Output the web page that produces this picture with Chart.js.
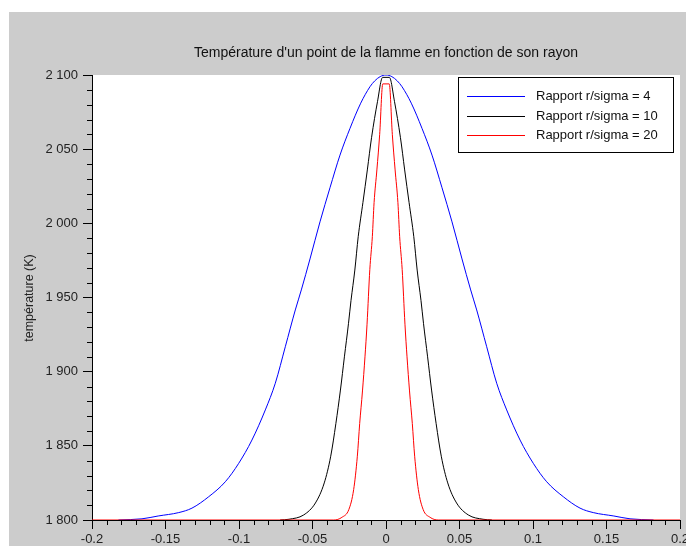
<!DOCTYPE html>
<html lang="fr">
<head>
<meta charset="UTF-8">
<title>Température d'un point de la flamme</title>
<script src="https://cdn.jsdelivr.net/npm/chart.js"></script>
<style>
  html, body { margin: 0; padding: 0; background: #fff; }
  #wrap { width: 686px; height: 546px; }
</style>
</head>
<body>
<div id="wrap"><canvas id="chart" width="686" height="546"></canvas></div>
<script>
// valeurs
const titre = "Température d'un point de la flamme en fonction de son rayon";
const labelY = 'température (K)';
const legendes = ['Rapport r/sigma = 4', 'Rapport r/sigma = 10', 'Rapport r/sigma = 20'];
const couleurs = ['#0000ff', '#000000', '#ff0000'];

const rBleu = [-0.182, -0.166, -0.155, -0.141, -0.132, -0.1206, -0.1093, -0.1002, -0.0912, -0.0821, -0.0753, -0.0685, -0.0617,
  -0.0576, -0.0517, -0.0449, -0.0381, -0.0313, -0.0245, -0.0172, -0.0109, -0.0077, -0.004, 0,
  0.004, 0.0077, 0.0109, 0.0172, 0.0245, 0.0313, 0.0381, 0.0449, 0.0517, 0.0576,
  0.0617, 0.0685, 0.0753, 0.0821, 0.0912, 0.1002, 0.1093, 0.1206, 0.132, 0.141, 0.155, 0.166, 0.182];
const tBleu = [1800, 1800.8, 1802.7, 1805, 1808, 1815.7, 1825.8, 1838.2, 1853.9, 1874.2, 1892.2, 1916.8, 1941.6,
  1955.1, 1976, 2001, 2024, 2046, 2064, 2081, 2092.1, 2096, 2098.9, 2100,
  2098.9, 2096, 2092.1, 2081, 2064, 2046, 2024, 2001, 1976, 1955.1,
  1941.6, 1916.8, 1892.2, 1874.2, 1853.9, 1838.2, 1825.8, 1815.7, 1808, 1805, 1802.7, 1800.8, 1800];

const rNoir = [-0.072, -0.066, -0.056, -0.048, -0.042, -0.0376, -0.0341, -0.031, -0.0283, -0.0255, -0.0238, -0.0212, -0.0189,
  -0.0157, -0.0127, -0.0098, -0.0058, -0.0023, 0.0023, 0.0058, 0.0098, 0.0127, 0.0157, 0.0189, 0.0212, 0.0238,
  0.0255, 0.0283, 0.031, 0.0341, 0.0376, 0.042, 0.048, 0.056, 0.066, 0.072];
const tNoir = [1800, 1800.5, 1803.4, 1811.5, 1825, 1843, 1865, 1887.6, 1910, 1932.6, 1948, 1968.5, 1991,
  2014, 2036, 2058, 2082, 2098.4, 2098.4, 2082, 2058, 2036, 2014, 1991, 1968.5, 1948,
  1932.6, 1910, 1887.6, 1865, 1843, 1825, 1811.5, 1803.4, 1800.5, 1800];

const rRouge = [-0.2, -0.0355, -0.03, -0.0253, -0.022, -0.0195, -0.0179, -0.016, -0.0143, -0.0129, -0.011, -0.0093, -0.0081,
  -0.0062, -0.0043, -0.0022, 0.0022, 0.0043, 0.0062, 0.0081, 0.0093, 0.011, 0.0129, 0.0143, 0.016, 0.0179,
  0.0195, 0.022, 0.0253, 0.03, 0.0355, 0.2];
const tRouge = [1800, 1800, 1801.8, 1807, 1820.5, 1843, 1865, 1887, 1910, 1932, 1969, 1991, 2014,
  2036, 2060, 2094, 2094, 2060, 2036, 2014, 1991, 1969, 1932, 1910, 1887, 1865,
  1843, 1820.5, 1807, 1801.8, 1800, 1800];

const ticksX = [-0.2, -0.15, -0.1, -0.05, 0, 0.05, 0.1, 0.15, 0.2];
const ticksY = [1800, 1850, 1900, 1950, 2000, 2050, 2100];

const police = '"Liberation Sans", Arial, Helvetica, sans-serif';

function points(r, t) {
  return r.map((v, i) => ({ x: v, y: t[i] }));
}

function milliers(v) {
  return String(Math.round(v)).replace(/\B(?=(\d{3})+(?!\d))/g, ' ');
}

const fond = {
  id: 'fond',
  beforeDraw(chart) {
    const ctx = chart.ctx, a = chart.chartArea;
    ctx.save();
    ctx.fillStyle = '#ffffff';
    ctx.fillRect(0, 0, chart.width, chart.height);
    ctx.fillStyle = '#cccccc';
    ctx.fillRect(9, 12, chart.width - 9, chart.height - 12);
    ctx.fillStyle = '#ffffff';
    ctx.fillRect(a.left, a.top, a.right - a.left, a.bottom - a.top);
    ctx.restore();
  }
};

// petites graduations + textes (titre, axe, légende)
const decor = {
  id: 'decor',
  afterDraw(chart) {
    const ctx = chart.ctx, a = chart.chartArea;
    const sx = chart.scales.x, sy = chart.scales.y;
    ctx.save();
    ctx.strokeStyle = '#000';
    ctx.lineWidth = 1;
    ctx.beginPath();
    for (let i = -20; i <= 20; i++) {
      if (i % 5 === 0) continue;
      const px = Math.round(sx.getPixelForValue(i / 100)) + 0.5;
      ctx.moveTo(px, a.bottom);
      ctx.lineTo(px, a.bottom + 5);
    }
    for (let v = 1800; v <= 2100; v += 10) {
      if (v % 50 === 0) continue;
      const py = Math.round(sy.getPixelForValue(v)) + 0.5;
      ctx.moveTo(a.left - 5, py);
      ctx.lineTo(a.left, py);
    }
    ctx.stroke();

    ctx.fillStyle = '#111';
    ctx.font = '14px ' + police;
    ctx.textAlign = 'center';
    ctx.textBaseline = 'middle';
    ctx.fillText(titre, (a.left + a.right) / 2, 53);

    ctx.save();
    ctx.translate(30, 298);
    ctx.rotate(-Math.PI / 2);
    ctx.fillStyle = '#222';
    ctx.font = '12.5px ' + police;
    ctx.fillText(labelY, 0, 0);
    ctx.restore();

    // légende
    ctx.fillStyle = '#fff';
    ctx.fillRect(458, 77, 215, 75);
    ctx.strokeStyle = '#000';
    ctx.strokeRect(458.5, 77.5, 215, 75);
    ctx.textAlign = 'left';
    ctx.font = '13px ' + police;
    const lignes = [96.5, 116.5, 135.5];
    legendes.forEach((txt, i) => {
      ctx.strokeStyle = couleurs[i];
      ctx.beginPath();
      ctx.moveTo(467, lignes[i]);
      ctx.lineTo(525, lignes[i]);
      ctx.stroke();
      ctx.fillStyle = '#111';
      ctx.fillText(txt, 536, lignes[i]);
    });
    ctx.restore();
  }
};

new Chart(document.getElementById('chart'), {
  type: 'scatter',
  data: {
    datasets: [
      { label: legendes[0], data: points(rBleu, tBleu), borderColor: couleurs[0], order: 2 },
      { label: legendes[1], data: points(rNoir, tNoir), borderColor: couleurs[1], order: 1 },
      { label: legendes[2], data: points(rRouge, tRouge), borderColor: couleurs[2], order: 0 }
    ].map(d => Object.assign(d, {
      showLine: true, pointRadius: 0, borderWidth: 1, fill: false,
      cubicInterpolationMode: 'monotone'
    }))
  },
  options: {
    responsive: false,
    animation: false,
    layout: { padding: { top: 75, right: 6, bottom: 0, left: 0 } },
    plugins: { legend: { display: false }, title: { display: false }, tooltip: { enabled: false } },
    scales: {
      x: {
        type: 'linear', min: -0.2, max: 0.2,
        afterBuildTicks: s => { s.ticks = ticksX.map(v => ({ value: v })); },
        afterFit: s => { s.height = 26; s.paddingLeft = 0; s.paddingRight = 0; },
        ticks: {
          autoSkip: false, maxRotation: 0, padding: 3, color: '#222',
          font: { size: 13, family: police },
          callback: v => String(Number(v.toFixed(2)))
        },
        grid: { drawOnChartArea: false, drawTicks: true, tickLength: 9, color: '#000' },
        border: { display: true, color: '#000' }
      },
      y: {
        type: 'linear', min: 1800, max: 2100,
        afterBuildTicks: s => { s.ticks = ticksY.map(v => ({ value: v })); },
        afterFit: s => { s.width = 92; s.paddingTop = 0; s.paddingBottom = 0; },
        ticks: {
          autoSkip: false, padding: 5, color: '#222',
          font: { size: 13, family: police },
          callback: v => milliers(v)
        },
        grid: { drawOnChartArea: false, drawTicks: true, tickLength: 9, color: '#000' },
        border: { display: true, color: '#000' }
      }
    }
  },
  plugins: [fond, decor]
});
</script>
</body>
</html>
